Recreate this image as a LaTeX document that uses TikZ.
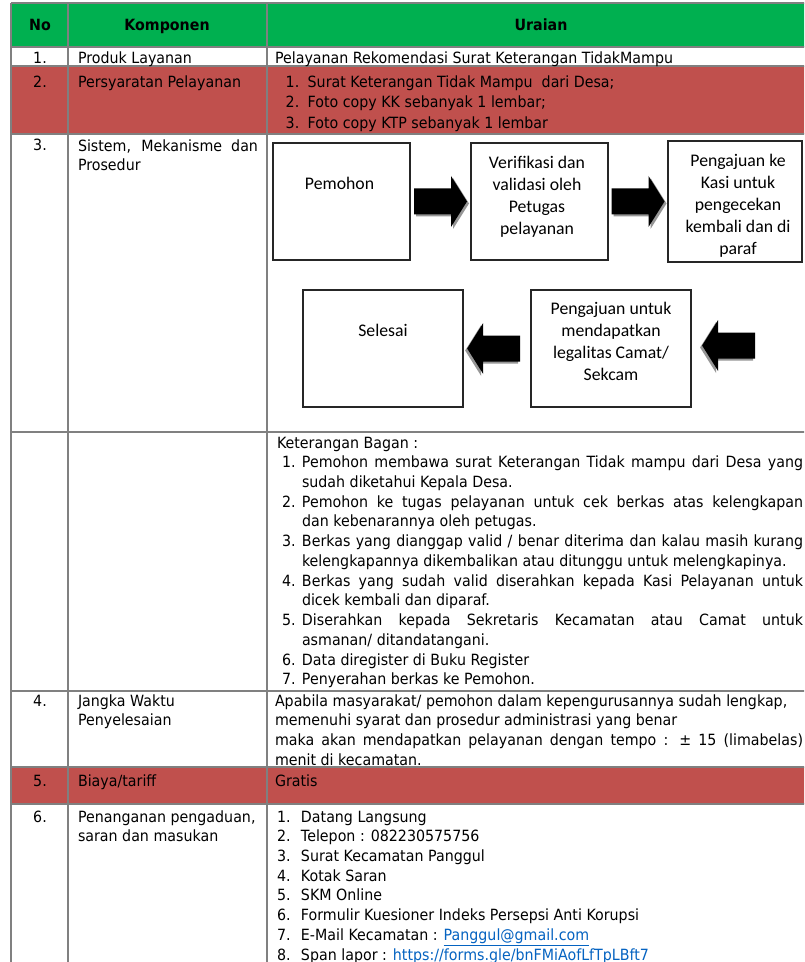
\documentclass[tikz,border=0pt]{standalone}
\usepackage{fontspec}
\setmainfont[FakeStretch=0.92]{DejaVu Sans}
\newfontfamily\fcal{Carlito}
\usetikzlibrary{calc}
\definecolor{hdrgreen}{RGB}{0,176,80}
\definecolor{rowred}{RGB}{192,80,77}
\definecolor{gridc}{RGB}{128,128,128}
\definecolor{linkc}{RGB}{5,99,193}
\definecolor{shadowc}{RGB}{150,150,150}
\newcommand\tfont{\fontsize{11.6}{14.8}\selectfont}
\newcommand\rtwofont{\fontsize{11.6}{15.3}\selectfont}
\newcommand\ffont{\fcal\fontsize{13.3}{16.6}\selectfont}
\newcommand\lnk[1]{\textcolor{linkc}{\underline{#1}}}
\newcommand\kli[1]{\hspace*{3.75pt}\makebox[15pt][l]{#1}}
\newcommand\klc{\hspace*{18.75pt}}
\newcommand\kjl[1]{\makebox[375.75pt][s]{#1}}
\newcommand\sli[1]{\makebox[18pt][l]{#1}}
\newcommand\pli[1]{\makebox[16.5pt][l]{#1}}
\begin{document}
\begin{tikzpicture}[x=0.75pt, y=-0.75pt,
  gridline/.style={draw=gridc, line width=0.9pt},
  tcell/.style={inner sep=0pt, outer sep=0pt, align=left, font=\tfont, anchor=north west},
  tline/.style={inner sep=0pt, outer sep=0pt, font=\tfont, anchor=base west},
  tnum/.style={inner sep=0pt, outer sep=0pt, font=\tfont, anchor=base},
  thead/.style={inner sep=0pt, outer sep=0pt, font=\tfont\bfseries, anchor=base},
  fbox/.style={draw=black!85, line width=0.9pt, rectangle, inner sep=0pt},
  ftext/.style={inner sep=0pt, outer sep=0pt, font=\ffont, align=center, anchor=north},
  rarrow/.pic={
    \fill[shadowc] (-24.5,-11) -- (12.5,-11) -- (12.5,-23.5) -- (28.5,2) -- (12.5,27.5) -- (12.5,15) -- (-24.5,15) -- cycle;
    \fill[black] (-26.5,-13) -- (10.5,-13) -- (10.5,-25.5) -- (26.5,0) -- (10.5,25.5) -- (10.5,13) -- (-26.5,13) -- cycle;
  }
]
\useasboundingbox (0,0) rectangle (804,962);
\clip (0,0) rectangle (804,962);
\fill[white] (0,0) rectangle (804,962);

% fills
\fill[hdrgreen] (11,3) rectangle (812,47);
\fill[rowred] (11,66) rectangle (812,134);
\fill[rowred] (11,767) rectangle (812,804);

% grid
\foreach \yy in {3,47,66,134,432,691,767,804}
  \draw[gridline] (11,\yy) -- (812,\yy);
\foreach \xx in {11,68,267}
  \draw[gridline] (\xx,3) -- (\xx,964);

% header
\node[thead] (hno) at (40,31) {No};
\node[thead] (hkomp) at (167,31) {Komponen};
\node[thead] (hurai) at (541,31) {Uraian};

% row 1
\node[tnum] (n1) at (40,63.5) {1.};
\node[tline] (k1) at (78,63.5) {Produk Layanan};
\node[tline] (u1) at (275,63.5) {Pelayanan Rekomendasi Surat Keterangan TidakMampu};

% row 2
\node[tnum] (n2) at (40,87.5) {2.};
\node[tline] (k2) at (78,87.5) {Persyaratan Pelayanan};
\node[tcell, font=\rtwofont] (u2) at (285.7,{87.5-14.28}) {\strut\pli{1.}Surat Keterangan Tidak Mampu\ \ dari Desa;\\
\pli{2.}Foto copy KK sebanyak 1 lembar;\\
\pli{3.}Foto copy KTP sebanyak 1 lembar};

% row 3
\node[tnum] (n3) at (40,151) {3.};
\node[tcell] (k3) at (78,{151-13.81}) {\strut\makebox[135pt][s]{Sistem, Mekanisme dan}\\Prosedur};

% flowchart boxes
\node[fbox, minimum width=102.75pt, minimum height=87.75pt] (b1) at (341.5,201.5) {};
\node[fbox, minimum width=102.75pt, minimum height=87.75pt] (b2) at (539.5,201.5) {};
\node[fbox, minimum width=100.5pt, minimum height=90.75pt] (b3) at (735,201.5) {};
\node[fbox, minimum width=120pt, minimum height=87.75pt] (b4) at (383,348.5) {};
\node[fbox, minimum width=120pt, minimum height=87.75pt] (b5) at (611,348.5) {};

\node[ftext] (t1) at ($(b1.north)+(-2,31.5)$) {\strut Pemohon};
\node[ftext] (t2) at ($(b2.north)+(-2.5,10.5)$) {\strut Verifikasi dan\\validasi oleh\\Petugas\\pelayanan};
\node[ftext] (t3) at ($(b3.north)+(3,10.5)$) {\strut Pengajuan ke\\Kasi untuk\\pengecekan\\kembali dan di\\paraf};
\node[ftext] (t4) at ($(b4.north)+(0,31.5)$) {\strut Selesai};
\node[ftext] (t5) at ($(b5.north)+(0,9.5)$) {\strut Pengajuan untuk\\mendapatkan\\legalitas Camat/\\Sekcam};

% block arrows
\coordinate (a1) at ($(b1.east)!0.5!(b2.west)$);
\coordinate (a2) at ($(b2.east)!0.5!(b3.west)$);
\coordinate (a3) at ($(b4.east)!0.45!(b5.west)$);
\coordinate (a4) at ($(b5.east)+(37,-3)$);
\pic at (a1) {rarrow};
\pic at (a2) {rarrow};
\pic[xscale=-1] at (a3) {rarrow};
\pic[xscale=-1] at (a4) {rarrow};

% keterangan
\node[tcell] (ket) at (277,{448-13.81}) {\strut Keterangan Bagan :\\
\kli{1.}\kjl{Pemohon membawa surat Keterangan Tidak mampu dari Desa yang}\\
\klc sudah diketahui Kepala Desa.\\
\kli{2.}\kjl{Pemohon ke tugas pelayanan untuk cek berkas atas kelengkapan}\\
\klc dan kebenarannya oleh petugas.\\
\kli{3.}\kjl{Berkas yang dianggap valid / benar diterima dan kalau masih kurang}\\
\klc kelengkapannya dikembalikan atau ditunggu untuk melengkapinya.\\
\kli{4.}\kjl{Berkas yang sudah valid diserahkan kepada Kasi Pelayanan untuk}\\
\klc dicek kembali dan diparaf.\\
\kli{5.}\kjl{Diserahkan kepada Sekretaris Kecamatan atau Camat untuk}\\
\klc asmanan/ ditandatangani.\\
\kli{6.}Data diregister di Buku Register\\
\kli{7.}Penyerahan berkas ke Pemohon.};

% row 4
\node[tnum] (n4) at (40,706) {4.};
\node[tcell] (k4) at (78,{706-13.81}) {\strut Jangka Waktu\\Penyelesaian};
\node[tcell] (u4) at (275,{706-13.81}) {\strut Apabila masyarakat/ pemohon dalam kepengurusannya sudah lengkap,\\
memenuhi syarat dan prosedur administrasi yang benar\\
\makebox[396pt][s]{maka akan mendapatkan pelayanan dengan tempo : ± 15 (limabelas)}\\
menit di kecamatan.};

% row 5
\node[tnum] (n5) at (40,786) {5.};
\node[tline] (k5) at (78,786) {Biaya/tariff};
\node[tline] (u5) at (275,786) {Gratis};

% row 6
\node[tnum] (n6) at (40,822) {6.};
\node[tcell] (k6) at (78,{822-13.81}) {\strut Penanganan pengaduan,\\saran dan masukan};
\node[tcell] (u6) at (277,{822-13.81}) {\strut\sli{1.}Datang Langsung\\
\sli{2.}Telepon : 082230575756\\
\sli{3.}Surat Kecamatan Panggul\\
\sli{4.}Kotak Saran\\
\sli{5.}SKM Online\\
\sli{6.}Formulir Kuesioner Indeks Persepsi Anti Korupsi\\
\sli{7.}E-Mail Kecamatan : \lnk{Panggul@gmail.com}\\
\sli{8.}Span lapor : \lnk{https://forms.gle/bnFMiAofLfTpLBft7}};
\end{tikzpicture}
\end{document}
